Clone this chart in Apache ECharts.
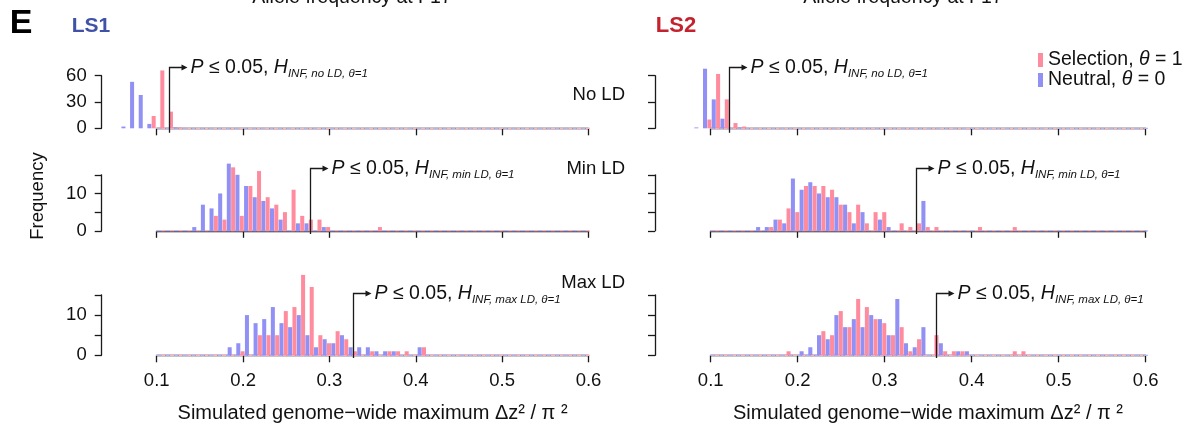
<!DOCTYPE html>
<html><head><meta charset="utf-8">
<script src="https://cdn.jsdelivr.net/npm/echarts@6/dist/echarts.min.js"></script>
<style>html,body{margin:0;padding:0;background:#fff;overflow:hidden}#c{width:1195px;height:428px}</style>
</head><body><div id="c"></div><script>
// ---------------- DATA ----------------
const binWidth = 0.01;
const histRange = [0.06, 0.66];
const seriesNames = ['Selection, θ = 1', 'Neutral, θ = 0'];
const rowLabels = ['No LD', 'Min LD', 'Max LD'];
const lineLabels = ['LS1', 'LS2'];
const topTitle = 'Allele frequency at F17';
const subLabels = ['INF, no LD, θ=1', 'INF, min LD, θ=1', 'INF, max LD, θ=1'];
const xTickMin = 0.1, xTickMax = 0.6, xTickStep = 0.1;
const yAxisMax = [60, 15, 15];
const yAxisStep = [30, 5, 5];
const yLabelled = [[0, 30, 60], [0, 10], [0, 10]];

// LS1, No LD
const ls1NoLDStart = 0.059;
const ls1NoLDSelection = [0, 0, 0, 14, 66, 19, 1];
const ls1NoLDNeutral   = [2, 53, 38, 5, 0, 0, 1];
// LS1, Min LD
const ls1MinLDStart = 0.141;
const ls1MinLDSelection = [0, 0, 4, 3, 17, 4, 12, 16, 9, 7, 5, 11, 4, 3, 3, 1, 0, 0, 0, 0, 0, 1];
const ls1MinLDNeutral   = [1, 7, 6, 10, 18, 15, 12, 9, 8, 6, 3, 0, 2, 2, 0, 1, 0, 0, 0, 0, 0, 0];
// LS1, Max LD
const ls1MaxLDStart = 0.182;
const ls1MaxLDSelection = [0, 1, 0, 5, 5, 5, 11, 12, 20, 17, 5, 3, 6, 4, 1, 0, 1, 0, 1, 1, 1, 0, 2];
const ls1MaxLDNeutral   = [2, 3, 10, 8, 9, 12, 8, 7, 10, 5, 2, 4, 3, 5, 2, 2, 2, 1, 1, 1, 0, 0, 2];
// LS2, No LD
const ls2NoLDStart = 0.081;
const ls2NoLDSelection = [0, 10, 62, 33, 6, 2];
const ls2NoLDNeutral   = [1, 68, 33, 11, 0, 1];
// LS2, Min LD
const ls2MinLDStart = 0.152;
const ls2MinLDSelection = [0, 1, 3, 6, 5, 12, 12, 12, 11, 7, 5, 7, 2, 5, 5, 0, 2, 1, 2, 1, 1, 0, 0, 0, 0, 1, 0, 0, 0, 1];
const ls2MinLDNeutral   = [1, 1, 3, 2, 14, 11, 13, 10, 9, 9, 7, 2, 5, 0, 3, 1, 0, 0, 0, 8, 0, 0, 0, 0, 0, 0, 0, 0, 0, 0];
// LS2, Max LD
const ls2MaxLDStart = 0.182;
const ls2MaxLDSelection = [1, 0, 0, 0, 6, 5, 11, 7, 14, 12, 9, 8, 5, 7, 1, 4, 0, 5, 1, 1, 1, 0, 0, 0, 0, 0, 1, 1];
const ls2MaxLDNeutral   = [0, 0, 1, 2, 5, 4, 10, 7, 9, 7, 10, 9, 5, 14, 3, 2, 7, 0, 3, 0, 1, 1, 0, 0, 0, 0, 0, 0];

// P <= 0.05 thresholds (x value of the arrow line)
const thresholdsLS1 = [0.114, 0.277, 0.327];
const thresholdsLS2 = [0.121, 0.336, 0.359];

// ---------------- STYLE / LAYOUT ----------------
const FONT = "'Liberation Sans', Arial, Helvetica, sans-serif";
const PINK = '#ff8c9e', BLUE = '#9090f5';
const PINK_BASE = '#ffb3c0', BLUE_BASE = '#b3b3fb';
const AX = '#1a1a1a';
const layout = {
  gridLeft: [156.7, 710.7], gridWidth: [431.8, 435],
  gridTop: [75.7, 174.8, 295], gridHeight: [52.6, 56, 60.3],
  yAxisOffset: [55, 55.7], xAxisOffset: [4, 2.6, 2.2],
  arrowDy: [-9, -6.4, -1.6]
};

const panels = [
  {col:0,row:0,start:ls1NoLDStart,sel:ls1NoLDSelection,neu:ls1NoLDNeutral,thr:thresholdsLS1[0]},
  {col:0,row:1,start:ls1MinLDStart,sel:ls1MinLDSelection,neu:ls1MinLDNeutral,thr:thresholdsLS1[1]},
  {col:0,row:2,start:ls1MaxLDStart,sel:ls1MaxLDSelection,neu:ls1MaxLDNeutral,thr:thresholdsLS1[2]},
  {col:1,row:0,start:ls2NoLDStart,sel:ls2NoLDSelection,neu:ls2NoLDNeutral,thr:thresholdsLS2[0]},
  {col:1,row:1,start:ls2MinLDStart,sel:ls2MinLDSelection,neu:ls2MinLDNeutral,thr:thresholdsLS2[1]},
  {col:1,row:2,start:ls2MaxLDStart,sel:ls2MaxLDSelection,neu:ls2MaxLDNeutral,thr:thresholdsLS2[2]}
];

function barRenderer(color) {
  return function (params, api) {
    const lo = api.value(0), hi = api.value(1), n = api.value(2);
    if (!n) return null;
    const p0 = api.coord([lo, n]);
    const p1 = api.coord([hi, 0]);
    return {type:'rect',
      shape:{x:p0[0]+0.15, y:p0[1], width:Math.max(p1[0]-p0[0]-0.3,0.5), height:p1[1]-p0[1]},
      style:{fill:color}};
  };
}
function thrRenderer(row) {
  return function (params, api) {
    const base = api.coord([api.value(0), 0]);
    const cs = params.coordSys;
    const x = Math.round(base[0]) + 0.5;
    const yb = base[1] + layout.xAxisOffset[row] + 0.5;
    const yt = Math.round(cs.y + layout.arrowDy[row]) + 0.5;
    return {type:'group', children:[
      {type:'polyline', shape:{points:[[x,yb],[x,yt],[x+13,yt]]}, style:{stroke:AX, lineWidth:1.3, fill:null}},
      {type:'polygon', shape:{points:[[x+12,yt-3],[x+18,yt],[x+12,yt+3]]}, style:{fill:AX}},
      {type:'text', x:x+21, y:yt+0.5, style:{
        text:'{i|P} ≤ 0.05, {i|H}{s|' + subLabels[row] + '}',
        fill:'#111', fontSize:19.5, fontFamily:FONT, align:'left', verticalAlign:'middle', lineHeight:24,
        rich:{i:{fontStyle:'italic', fontSize:19.5, fontFamily:FONT, fill:'#111'},
              s:{fontStyle:'italic', fontSize:11.5, fontFamily:FONT, fill:'#111', padding:[12,0,0,0]}}
      }}
    ]};
  };
}

const grid = [], xAxis = [], yAxis = [], series = [];
panels.forEach((p, k) => {
  grid.push({left:layout.gridLeft[p.col], width:layout.gridWidth[p.col],
             top:layout.gridTop[p.row], height:layout.gridHeight[p.row],
             containLabel:false, outerBoundsMode:'none'});
  xAxis.push({type:'value', gridIndex:k, min:xTickMin, max:xTickMax, interval:xTickStep,
    offset:layout.xAxisOffset[p.row], splitLine:{show:false},
    axisLine:{show:true, lineStyle:{color:AX, width:1.3}},
    axisTick:{show:true, length:7, lineStyle:{color:AX, width:1.3}},
    axisLabel:{show:p.row===2, fontSize:18.5, fontFamily:FONT, color:'#111', margin:14,
      formatter:v => (Math.round(v*10)/10).toFixed(1)}});
  yAxis.push({type:'value', gridIndex:k, min:0, max:yAxisMax[p.row], interval:yAxisStep[p.row],
    offset:layout.yAxisOffset[p.col], splitLine:{show:false},
    axisLine:{show:true, lineStyle:{color:AX, width:1.3}},
    axisTick:{show:true, length:7, lineStyle:{color:AX, width:1.3}},
    axisLabel:{show:p.col===0, fontSize:18.5, fontFamily:FONT, color:'#111', margin:15,
      formatter:v => yLabelled[p.row].indexOf(v) >= 0 ? String(v) : ''}});
  // dashed zero baseline (empty bins of both histograms)
  [[BLUE_BASE, 0], [PINK_BASE, 4.33]].forEach(([c, off]) => {
    series.push({type:'line', xAxisIndex:k, yAxisIndex:k, silent:true, clip:false, symbol:'none', z:1,
      data:[[histRange[0],0],[histRange[1],0]],
      lineStyle:{color:c, width:1.2, type:[4.33,4.33], dashOffset:off}});
  });
  const neuData = p.neu.map((n, i) => [p.start+i*binWidth, p.start+i*binWidth+binWidth/2, n]);
  const selData = p.sel.map((n, i) => [p.start+i*binWidth+binWidth/2, p.start+(i+1)*binWidth, n]);
  series.push({type:'custom', name:seriesNames[1], xAxisIndex:k, yAxisIndex:k, clip:false, z:2,
    itemStyle:{color:BLUE}, renderItem:barRenderer(BLUE), data:neuData, encode:{x:[0,1], y:2}});
  series.push({type:'custom', name:seriesNames[0], xAxisIndex:k, yAxisIndex:k, clip:false, z:2,
    itemStyle:{color:PINK}, renderItem:barRenderer(PINK), data:selData, encode:{x:[0,1], y:2}});
  series.push({type:'custom', xAxisIndex:k, yAxisIndex:k, clip:false, z:3, silent:true,
    renderItem:thrRenderer(p.row), data:[[p.thr, 0]], encode:{x:0, y:1}});
});

const txt = (text, x, y, o) => ({type:'text', x, y, silent:true,
  style:Object.assign({text, fill:'#111', fontSize:18, fontFamily:FONT, align:'center', verticalAlign:'middle'}, o||{})});

const graphic = [
  txt('E', 21, 24, {fontSize:34, fontWeight:'bold', fill:'#000'}),
  txt(lineLabels[0], 91, 26, {fontSize:21, fontWeight:'bold', fill:'#4052a8'}),
  txt(lineLabels[1], 676, 26, {fontSize:22, fontWeight:'bold', fill:'#c4222e'}),
  txt(topTitle, 352, -2.5, {fontSize:19.5}),
  txt(topTitle, 903, -2.5, {fontSize:19.5}),
  txt(rowLabels[0], 625, 95, {align:'right', fontSize:18.5}),
  txt(rowLabels[1], 625, 169, {align:'right', fontSize:18.5}),
  txt(rowLabels[2], 625, 283, {align:'right', fontSize:18.5}),
  {type:'text', x:38, y:196, rotation:Math.PI/2, silent:true,
   style:{text:'Frequency', fill:'#111', fontSize:18.5, fontFamily:FONT, align:'center', verticalAlign:'middle'}},
  txt('Simulated genome\u2212wide maximum \u0394z\u00b2 / \u03c0 \u00b2', 372.6, 413, {fontSize:20}),
  txt('Simulated genome\u2212wide maximum \u0394z\u00b2 / \u03c0 \u00b2', 928, 413, {fontSize:20})
];

const chart = echarts.init(document.getElementById('c'), null, {renderer:'canvas'});
chart.setOption({
  animation:false,
  backgroundColor:'#fff',
  grid, xAxis, yAxis, series, graphic,
  legend:{data:[seriesNames[0], seriesNames[1]], orient:'vertical', left:1033, top:45, padding:5,
    icon:'rect', itemWidth:5, itemHeight:14, itemGap:0, selectedMode:false,
    textStyle:{fontSize:19.5, fontFamily:FONT, color:'#111', lineHeight:20,
      rich:{t:{fontStyle:'italic', fontSize:19.5, fontFamily:FONT, color:'#111', lineHeight:20}}},
    formatter:name => name.replace('θ', '{t|θ}')}
});
</script></body></html>
